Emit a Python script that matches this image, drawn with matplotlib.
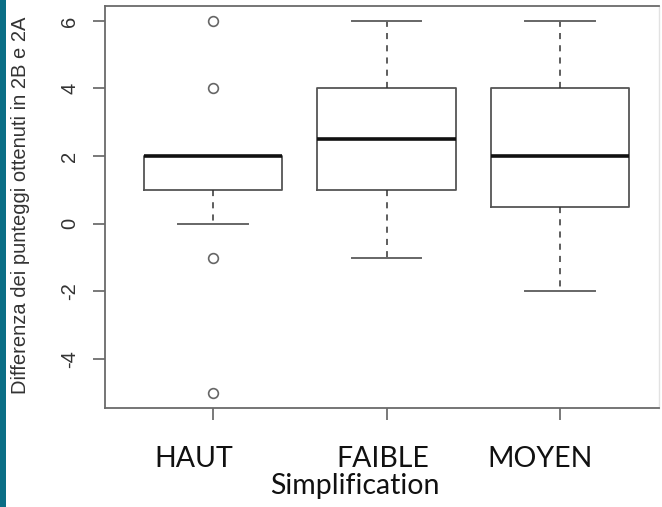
import matplotlib
matplotlib.use("Agg")
import matplotlib.pyplot as plt
from matplotlib.patches import Rectangle

# valori
gruppi = ["HAUT", "FAIBLE", "MOYEN"]
q1 = [1, 1, 0.5]
mediane = [2, 2.5, 2]
q3 = [2, 4, 4]
whisker_basso = [0, -1, -2]
whisker_alto = [2, 6, 6]
outliers = [[6, 4, -1, -5], [], []]
yticks = [-4, -2, 0, 2, 4, 6]

stats = []
for i, g in enumerate(gruppi):
    stats.append({
        "label": g,
        "q1": q1[i],
        "med": mediane[i],
        "q3": q3[i],
        "whislo": whisker_basso[i],
        "whishi": whisker_alto[i],
        "fliers": outliers[i],
    })

fig = plt.figure(figsize=(6.62, 5.07), dpi=100)
fig.patch.set_facecolor("white")
ax = fig.add_axes([105 / 662, 1 - 408 / 507, 554 / 662, 402 / 507])

grigio = "#555555"
ax.bxp(
    stats,
    positions=[1, 2, 3],
    widths=0.8,
    capwidths=0.4,
    boxprops=dict(color=grigio, linewidth=1.3),
    medianprops=dict(color="#111111", linewidth=2.6, solid_capstyle="butt"),
    whiskerprops=dict(color="#333333", linewidth=1.1, linestyle=(0, (4, 4))),
    capprops=dict(color="#666666", linewidth=1.4),
    flierprops=dict(marker="o", markerfacecolor="none", markeredgecolor="#666666",
                    markersize=7, markeredgewidth=1.2),
)

ax.set_xlim(0.378, 3.57)
ax.set_ylim(-5.45, 6.44)
ax.set_yticks(yticks)
ax.set_yticklabels([str(t) for t in yticks], rotation=90, va="center",
                   family=["Liberation Sans", "DejaVu Sans"], fontsize=14.5, color="#333333")
ax.set_xticks([1, 2, 3])
ax.set_xticklabels([])
ax.tick_params(axis="both", length=8.6, width=1.1, color="#555555")
ax.tick_params(axis="y", pad=10)

for lato in ["left", "top", "bottom"]:
    ax.spines[lato].set_color("#6a6a6a")
    ax.spines[lato].set_linewidth(1.3)
ax.spines["right"].set_color("#e2e2e2")
ax.spines["right"].set_linewidth(1.0)

# etichette dell'asse x
pos_x = [194, 383, 540]
for g, px in zip(gruppi, pos_x):
    fig.text(px / 662, 1 - 467 / 507, g, ha="center", va="baseline",
             family="Lato", fontsize=20.5, color="#111111")
fig.text(355 / 662, 1 - 494 / 507, "Simplification", ha="center", va="baseline",
         family="Lato", fontsize=20.5, color="#111111")

fig.text(21 / 662, 1 - 205 / 507, "Differenza dei punteggi ottenuti in 2B e 2A",
         rotation=90, ha="center", va="center",
         family=["Liberation Sans", "DejaVu Sans"], fontsize=14.5, color="#333333")

# striscia blu a sinistra
fig.patches.append(Rectangle((0, 0), 6 / 662, 1, transform=fig.transFigure,
                             facecolor="#0b6e86", edgecolor="none"))

fig.savefig("out.png", dpi=100)
